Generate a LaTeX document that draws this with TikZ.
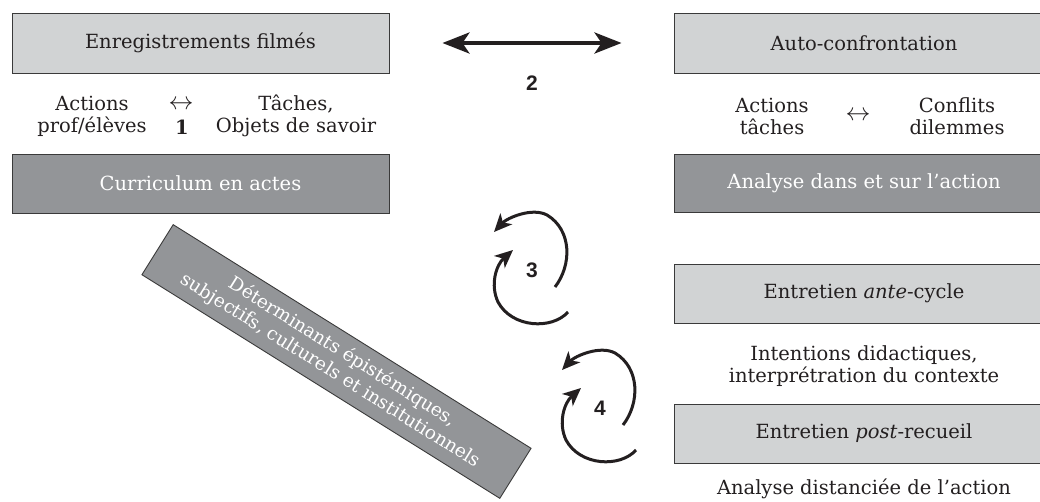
\documentclass[tikz,border=0pt]{standalone}
\usepackage{fontspec}
\setmainfont{DejaVu Serif}
\newfontfamily\numfont{Liberation Sans}
\usetikzlibrary{arrows.meta}
\definecolor{lightbox}{HTML}{D1D3D4}
\definecolor{darkbox}{HTML}{939598}
\definecolor{edgegray}{HTML}{3A3A3A}
\definecolor{ink}{HTML}{231F20}
\begin{document}
\begin{tikzpicture}[x=1pt,y=-1pt,
  every node/.style={font=\fontsize{19.5}{22}\selectfont},
  lbox/.style={draw=edgegray, line width=0.9pt, fill=lightbox, minimum height=60pt, text=ink, inner sep=0pt},
  dbox/.style={lbox, fill=darkbox, text=white},
  txt/.style={text=ink, align=center, inner sep=0pt},
  num/.style={font=\numfont\bfseries\fontsize{21}{24}\selectfont, text=ink, inner sep=0pt},
  dblarrow/.style={line width=4pt, draw=ink, {Stealth[length=27pt,width=21pt,inset=7pt]}-{Stealth[length=27pt,width=21pt,inset=7pt]}},
  cyc/.style={line width=3pt, draw=ink, -{Stealth[length=18pt,width=16pt,inset=5pt]}}
]
\useasboundingbox (0,0) rectangle (1040,501);
\clip (0,0) rectangle (1040,501);

% left column
\node[lbox, minimum width=377pt] (enr) at (200.5,43) {Enregistrements filmés};
\node[dbox, minimum width=377pt, minimum height=59pt] (cur) at (200.5,183.5) {Curriculum en actes};
\node[txt] (actL) at (92,116) {Actions\\prof/élèves};
\node[txt, font=\fontsize{24}{24}\selectfont] (lrL) at (181,105) {$\leftrightarrow$};
\node[txt, font=\bfseries\fontsize{19.5}{22}\selectfont] (one) at (182,127) {1};
\node[txt] (tachL) at (296,116) {Tâches,\\Objets de savoir};

% right column
\node[lbox, minimum width=380pt] (auto) at (864,43.5) {Auto-confrontation};
\node[dbox, minimum width=380pt, minimum height=58pt] (ana) at (864,183) {Analyse dans et sur l'action};
\node[txt] (actR) at (772,116) {Actions\\tâches};
\node[txt, font=\fontsize{24}{24}\selectfont] (lrR) at (858,116) {$\leftrightarrow$};
\node[txt] (confR) at (957,116) {Conflits\\dilemmes};

\node[lbox, minimum width=380pt, minimum height=59pt] (ante) at (864,293.5) {Entretien \textit{ante}-cycle};
\node[txt] (intent) at (864,366) {Intentions didactiques,\\interprétration du contexte};
\node[lbox, minimum width=380pt, minimum height=59pt] (post) at (864,433.5) {Entretien \textit{post}-recueil};
\node[txt] (dist) at (864,489) {Analyse distanciée de l'action};

% double arrow 2
\draw[dblarrow, shorten <=53pt, shorten >=52pt] (enr.east) -- (enr.east -| auto.west);
\node[num] (two) at (532,83) {2};

% rotated band
\node[dbox, rotate=-32, minimum width=422pt, minimum height=59pt, align=center,
      font=\fontsize{18.5}{22}\selectfont] (det) at (336.5,361.5)
      {Déterminants épistémiques,\\subjectifs, culturels et institutionnels};

% cycles 3 and 4
\node[num] (three) at (532,270) {3};
\node[num] (four) at (600,408) {4};
\foreach \c in {three,four}{
  \begin{scope}[shift={(\c.center)}]
    \draw[cyc] (23,17) .. controls (40,-5) and (40,-40) .. (15,-55)
                       .. controls (0,-63) and (-25,-52) .. (-38,-38);
    \draw[cyc] (36,42) .. controls (20,60) and (-20,58) .. (-34,32)
                       .. controls (-42,15) and (-36,-5) .. (-19,-20);
  \end{scope}
}
\end{tikzpicture}
\end{document}
